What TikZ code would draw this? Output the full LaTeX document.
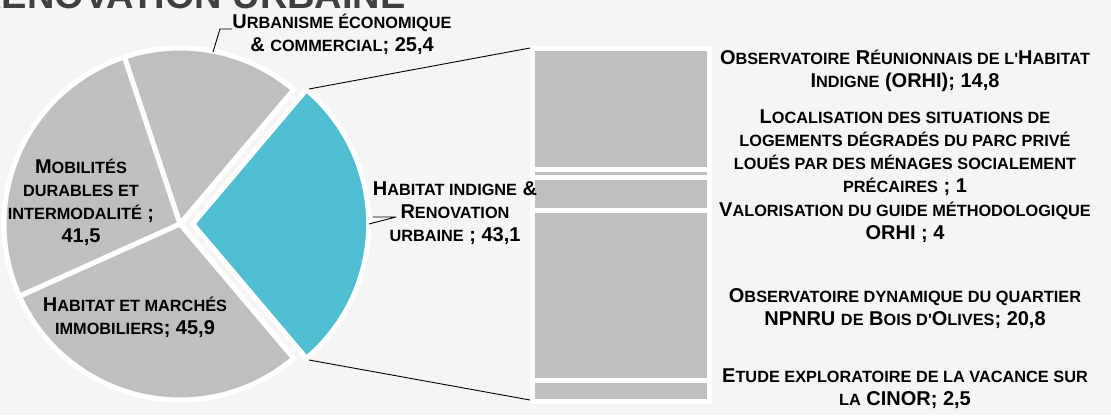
\documentclass[tikz,border=0pt]{standalone}
\usepackage{fontspec}
\setmainfont{Liberation Sans}
\definecolor{fcfcfc}{RGB}{245,245,245}
\definecolor{bfbfbf}{RGB}{191,191,191}
\definecolor{qcbdcf}{RGB}{79,190,209}
\definecolor{ququqt}{RGB}{64,64,64}
\newcommand\smc[1]{{\fontsize{16.3}{23}\selectfont #1}}

\begin{document}
\begin{tikzpicture}[line join=round,x=1pt,y=1pt,
    slice/.style={draw=white,line width=5pt,fill=bfbfbf},
    seg/.style={draw=white,line width=5pt,fill=bfbfbf},
    lbl/.style={align=center,inner sep=0pt,font=\fontsize{20}{23}\selectfont\bfseries},
    lead/.style={draw=black,line width=0.9pt}]
      \useasboundingbox (0,0) rectangle (1111,415);
      \fill[fcfcfc] (0,0) rectangle (1111,415);
      \begin{scope}
      \clip (0,0) rectangle (1111,415);
      \node[anchor=base east,inner sep=0pt,text=ququqt,font=\fontsize{38}{38}\selectfont\bfseries] (titre) at (406,406.5) {RENOVATION URBAINE};
      \end{scope}
      % secteurs
      \coordinate (c) at (180,191);
      \coordinate (ct) at (192.7,191);
      \draw[slice] (c) -- ++(49.77:176) arc (49.77:108.42:176) -- cycle;
      \draw[slice] (c) -- ++(108.42:176) arc (108.42:204.25:176) -- cycle;
      \draw[slice] (c) -- ++(204.25:176) arc (204.25:310.23:176) -- cycle;
      \draw[slice,fill=qcbdcf] (ct) -- ++(-49.77:176) arc (-49.77:49.77:176) -- cycle;
      % barre
      \foreach \ya/\yb in {366.5/245.3,245.3/237.1,237.1/204.3,204.3/34,34/13.5}
      \draw[seg] (532.5,\ya) rectangle (709.5,\yb);
      \coordinate (th) at (309,326);
      \coordinate (tb) at (309,55);
      \coordinate (bh) at (530,367);
      \coordinate (bb) at (530,15);
      \draw[lead] (th) -- (bh);
      \draw[lead] (tb) -- (bb);
      % etiquettes
      \node[lbl] (urb) at (342,381) {U\smc{RBANISME ÉCONOMIQUE}\\\& \smc{COMMERCIAL}; 25,4};
      \node[lbl] (mob) at (81,213) {M\smc{OBILITÉS}\\\smc{DURABLES ET}\\\smc{INTERMODALITÉ} ;\\41,5};
      \node[lbl] (hab) at (135,97.5) {H\smc{ABITAT ET MARCHÉS}\\\smc{IMMOBILIERS}; 45,9};
      \node[lbl] (ind) at (455,202) {H\smc{ABITAT INDIGNE} \&\\R\smc{ENOVATION}\\\smc{URBAINE} ; 43,1};
      \node[lbl] (orhi) at (905,344) {O\smc{BSERVATOIRE} R\smc{ÉUNIONNAIS DE L\textquotesingle}H\smc{ABITAT}\\I\smc{NDIGNE} (ORHI); 14,8};
      \node[lbl] (loc) at (905,262) {L\smc{OCALISATION DES SITUATIONS DE}\\\smc{LOGEMENTS DÉGRADÉS DU PARC PRIVÉ}\\\smc{LOUÉS PAR DES MÉNAGES SOCIALEMENT}\\\smc{PRÉCAIRES} ; 1};
      \node[lbl] (val) at (905,192.5) {V\smc{ALORISATION DU GUIDE MÉTHODOLOGIQUE}\\ORHI ; 4};
      \node[lbl] (obs) at (905,106) {O\smc{BSERVATOIRE DYNAMIQUE DU QUARTIER}\\NPNRU \smc{DE} B\smc{OIS D\textquotesingle}O\smc{LIVES}; 20,8};
      \node[lbl] (etu) at (905,26) {E\smc{TUDE EXPLORATOIRE DE LA VACANCE SUR}\\\smc{LA} CINOR; 2,5};
      \coordinate (u1) at (213,363);
      \coordinate (u2) at (220,386);
      \draw[lead] (u1) -- (u2) -- (urb.west |- u2);
      \coordinate (r1) at (369,191);
      \coordinate (r2) at (396,198);
      \draw[lead] (r1) -- (r2) -- (ind.west |- r2);
    \end{tikzpicture}
\end{document}
